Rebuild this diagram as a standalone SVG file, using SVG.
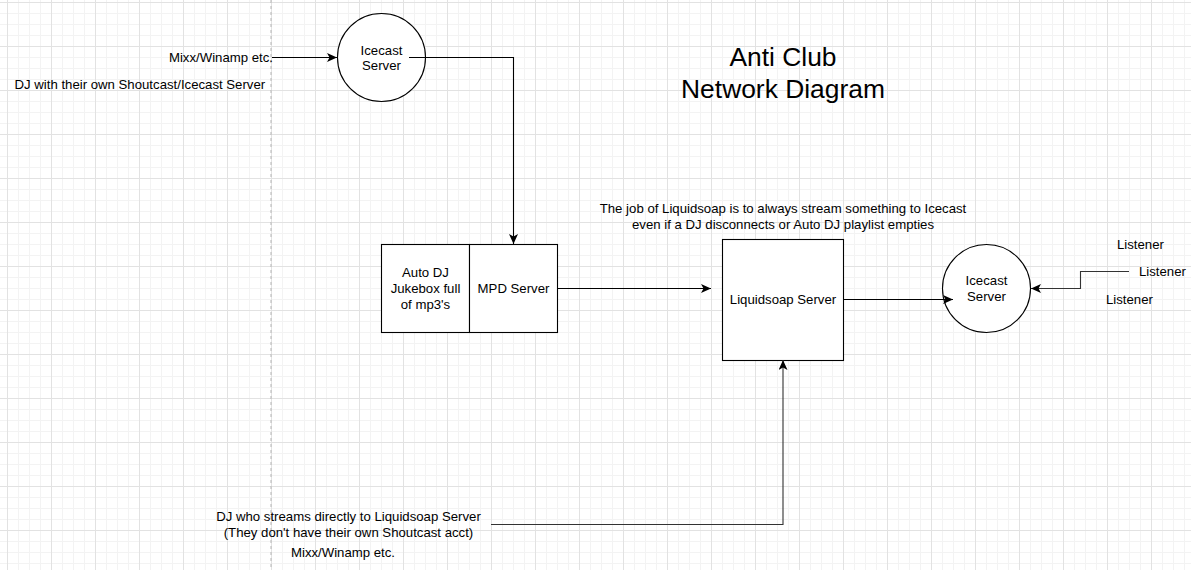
<svg xmlns="http://www.w3.org/2000/svg" width="1191" height="570" viewBox="0 0 1191 570">
<defs>
<pattern id="grid" patternUnits="userSpaceOnUse" x="7" y="2" width="44" height="44">
<rect x="11" y="0" width="1" height="44" fill="#f3f3f3"/>
<rect x="22" y="0" width="1" height="44" fill="#f3f3f3"/>
<rect x="33" y="0" width="1" height="44" fill="#f3f3f3"/>
<rect x="0" y="11" width="44" height="1" fill="#f3f3f3"/>
<rect x="0" y="22" width="44" height="1" fill="#f3f3f3"/>
<rect x="0" y="33" width="44" height="1" fill="#f3f3f3"/>
<rect x="0" y="0" width="1" height="44" fill="#e2e2e2"/>
<rect x="0" y="0" width="44" height="1" fill="#e2e2e2"/>
</pattern>
<marker id="arr" markerUnits="userSpaceOnUse" markerWidth="12" markerHeight="10" refX="10" refY="4.5" orient="auto">
<path d="M0,0 L10,4.5 L0,9 L2.5,4.5 Z" fill="#000"/>
</marker>
</defs>
<style>
text{font-family:"Liberation Sans",Arial,sans-serif;font-size:13.2px;fill:#000}
.c{text-anchor:middle}
.e{text-anchor:end}
.title{font-size:26.4px}
.shape{fill:#fff;stroke:#000;stroke-width:1.1}
.conn{fill:none;stroke:#000;stroke-width:1.1;marker-end:url(#arr)}
</style>
<rect width="1191" height="570" fill="#fff"/>
<rect width="1191" height="570" fill="url(#grid)"/>
<line x1="271" y1="0" x2="271" y2="570" stroke="#b5b5b5" stroke-width="1" stroke-dasharray="3,3"/>

<g id="title">
<text class="c title" x="783" y="66">Anti Club</text>
<text class="c title" x="783" y="98">Network Diagram</text>
</g>

<g id="icecast-top">
<circle class="shape" cx="381.5" cy="57.5" r="44"/>
<text class="c" x="381.5" y="54.5">Icecast</text>
<text class="c" x="381.5" y="70">Server</text>
</g>

<g id="dj-shoutcast">
<text class="e" x="273" y="62">Mixx/Winamp etc.</text>
<text x="14.5" y="89">DJ with their own Shoutcast/Icecast Server</text>
</g>

<g id="autodj">
<rect class="shape" x="381.5" y="244.5" width="88" height="88"/>
<text class="c" x="425.5" y="277">Auto DJ</text>
<text class="c" x="425.5" y="293">Jukebox full</text>
<text class="c" x="425.5" y="309">of mp3's</text>
</g>

<g id="mpd">
<rect class="shape" x="469.5" y="244.5" width="88" height="88"/>
<text class="c" x="513.5" y="293">MPD Server</text>
</g>

<g id="liquidsoap-note">
<text class="c" x="783" y="213">The job of Liquidsoap is to always stream something to Icecast</text>
<text class="c" x="783" y="229">even if a DJ disconnects or Auto DJ playlist empties</text>
</g>

<g id="liquidsoap">
<rect class="shape" x="722.5" y="239.5" width="121" height="121"/>
<text class="c" x="783" y="304">Liquidsoap Server</text>
</g>

<g id="icecast-right">
<circle class="shape" cx="986.5" cy="288.5" r="44"/>
<text class="c" x="986.5" y="285">Icecast</text>
<text class="c" x="986.5" y="300.5">Server</text>
</g>

<g id="listeners">
<text x="1117" y="249">Listener</text>
<text x="1139" y="276">Listener</text>
<text x="1106" y="304">Listener</text>
</g>

<g id="dj-direct">
<text class="c" x="348.5" y="521">DJ who streams directly to Liquidsoap Server</text>
<text class="c" x="348.5" y="537">(They don't have their own Shoutcast acct)</text>
<text class="c" x="343" y="556.5">Mixx/Winamp etc.</text>
</g>

<g id="connectors">
<path class="conn" d="M272,57.5 L337,57.5"/>
<path class="conn" d="M409,57.5 L513.5,57.5 L513.5,244"/>
<path class="conn" d="M557,288.5 L711,288.5"/>
<path class="conn" d="M843,299.5 L953,299.5"/>
<path class="conn" style="stroke:#333" d="M1129,271.5 L1080.5,271.5 L1080.5,288.5 L1031,288.5"/>
<path class="conn" style="stroke:#333" d="M491,524.5 L783,524.5 L783,360"/>
</g>
</svg>
